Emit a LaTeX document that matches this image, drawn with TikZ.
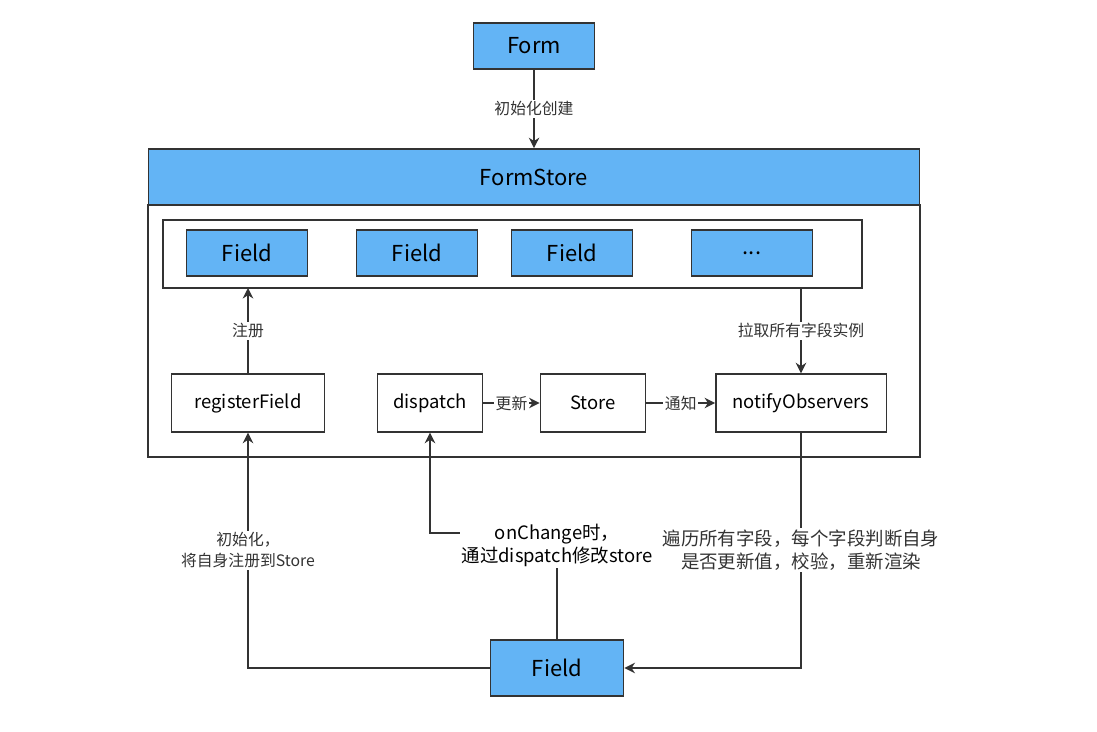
\documentclass[tikz,border=0pt]{standalone}
\usepackage{fontspec}
\setmainfont{Noto Sans CJK SC}
\usetikzlibrary{arrows.meta, positioning}
\definecolor{boxblue}{HTML}{63B4F5}
\definecolor{edge}{HTML}{333333}
\tikzset{
  blue box/.style={draw=edge, fill=boxblue, thick, minimum height=26pt, font=\fontsize{12.5}{14}\selectfont},
  plain box/.style={draw=edge, fill=white, thick, minimum height=33pt, font=\fontsize{10.5}{12}\selectfont},
  lbl/.style={fill=white, inner sep=1pt, font=\fontsize{9}{12}\selectfont, align=center},
  arr/.style={-{Stealth[length=6pt,width=6pt]}, edge, thick}
}
\begin{document}
\begin{tikzpicture}[x=0.02cm, y=-0.02cm]
  \useasboundingbox (0,0) rectangle (1097,732);

  % top form
  \node[blue box, minimum width=69pt] (form) at (534,46) {Form};

  % store frame
  \draw[edge, thick, fill=white] (148,205) rectangle (920,457);
  \node[blue box, minimum width=439pt, minimum height=32pt] (store head) at (534,177) {FormStore};
  \draw[edge, thick] (163,220) rectangle (862,288);
  \coordinate (inner) at (512,288);

  % fields inside the store
  \node[blue box, minimum width=69pt] (f1) at (247,253) {Field};
  \node[blue box, minimum width=69pt] (f2) at (417,253) {Field};
  \node[blue box, minimum width=69pt] (f3) at (572,253) {Field};
  \node[blue box, minimum width=69pt] (f4) at (752,253) {...};

  % methods
  \node[plain box, minimum width=87pt] (reg) at (248,403) {registerField};
  \node[plain box, minimum width=60pt] (disp) at (430,403) {dispatch};
  \node[plain box, minimum width=60pt] (st) at (593,403) {Store};
  \node[plain box, minimum width=97pt] (notify) at (801,403) {notifyObservers};

  % bottom field
  \node[blue box, minimum width=76pt, minimum height=32pt] (field) at (557,668) {Field};

  % arrows
  \draw[arr] (form) -- (store head) node[lbl, midway] {初始化创建};
  \draw[arr] (reg) -- (reg |- inner) node[lbl, midway] {注册};
  \draw[arr] (notify |- inner) -- (notify) node[lbl, midway] {拉取所有字段实例};
  \draw[arr] (disp) -- (st) node[lbl, midway] {更新};
  \draw[arr] (st) -- (notify) node[lbl, midway] {通知};

  % field lifecycle
  \draw[arr] (field.west) -| (reg.south) node[lbl, pos=0.75] {初始化，\\将自身注册到Store};
  \node[lbl, font=\fontsize{10.5}{13}\selectfont] (change) at (557,545) {onChange时，\\通过dispatch修改store};
  \draw[edge, thick] (field.north) -- (change);
  \draw[arr] (change.west |- 0,533) -| (disp.south);
  \draw[arr] (notify.south) |- (field.east) node[lbl, pos=0.25, font=\fontsize{10.5}{13}\selectfont] {遍历所有字段，每个字段判断自身\\是否更新值，校验，重新渲染};
\end{tikzpicture}
\end{document}
